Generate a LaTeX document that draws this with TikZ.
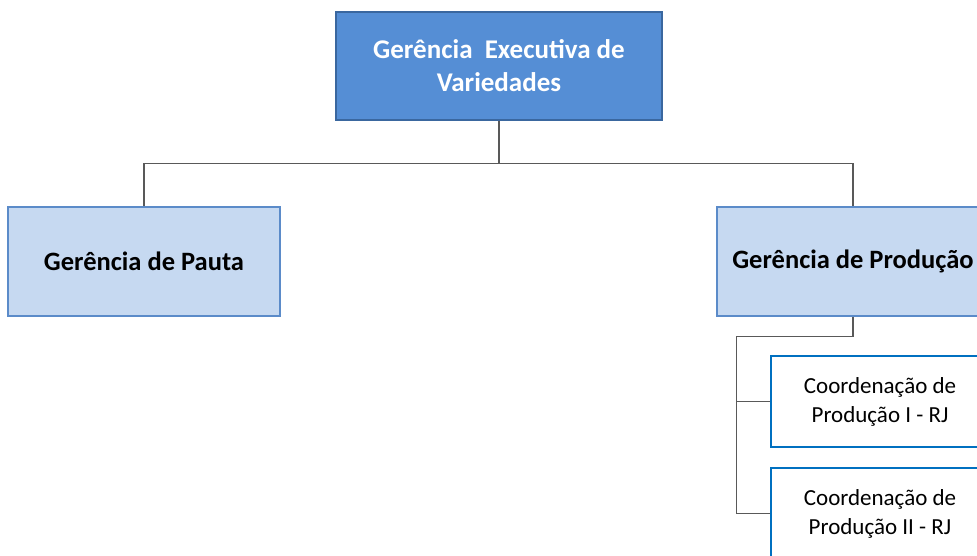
\documentclass[tikz,border=0pt]{standalone}
\usepackage{fontspec}
\setmainfont{Carlito}
\definecolor{execfill}{HTML}{558ED5}
\definecolor{execline}{HTML}{3A679F}
\definecolor{gerfill}{HTML}{C6D9F1}
\definecolor{gerline}{HTML}{5B8BC9}
\definecolor{coordline}{HTML}{0070C0}
\definecolor{linkgray}{HTML}{595959}
\tikzset{
  execbox/.style={draw=execline, fill=execfill, line width=1.5pt, text=white,
    font=\fontsize{27}{33}\selectfont\bfseries, align=center,
    minimum width=326pt, minimum height=108pt, inner sep=0pt},
  gerbox/.style={draw=gerline, fill=gerfill, line width=1.5pt,
    font=\fontsize{26.5}{32}\selectfont\bfseries, align=center,
    minimum width=272pt, minimum height=109pt, inner sep=0pt},
  coordbox/.style={draw=coordline, fill=white, line width=1.8pt,
    font=\fontsize{23}{29}\selectfont, align=center,
    minimum width=218pt, minimum height=91pt, inner sep=0pt},
  link/.style={draw=linkgray, line width=1.2pt}
}
\begin{document}
\begin{tikzpicture}[x=1pt,y=-1pt]
  \useasboundingbox (0,0) rectangle (977,555);
  \clip (0,0) rectangle (977,555);
  % top level
  \node[execbox] (exec) at (499,66) {Gerência~ Executiva de\\Variedades};
  % second level
  \node[gerbox] (pauta) at (144,261.5) {Gerência de Pauta};
  \node[gerbox] (producao) at (853,261.5) {Gerência de Produção};
  % coordinations under Produção
  \node[coordbox] (coordI) at (880,401.5) {Coordenação de\\Produção I - RJ};
  \node[coordbox] (coordII) at (880,513.5) {Coordenação de\\Produção II - RJ};
  \coordinate (bus) at ([xshift=-34pt]coordI.west);
  % connectors
  \draw[link] (exec.south) -- ++(0,43) -| (pauta.north);
  \draw[link] (exec.south) -- ++(0,43) -| (producao.north);
  \draw[link] (producao.south) -- ++(0,20) -| (bus) -- (coordI.west);
  \draw[link] (bus) |- (coordII.west);
\end{tikzpicture}
\end{document}
